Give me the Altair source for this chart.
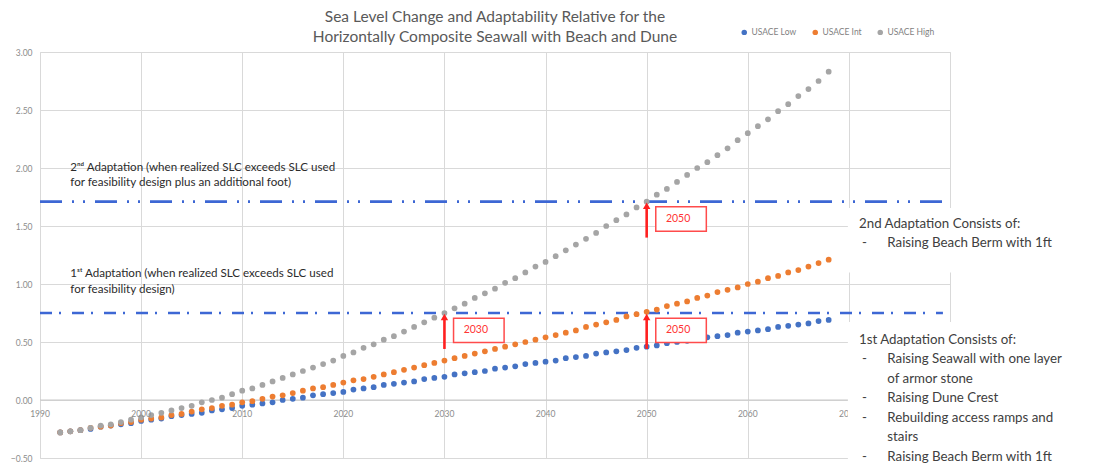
import altair as alt
import pandas as pd

# ---- data ------------------------------------------------------------------
years = list(range(1992, 2069))

usace_low = [
    -0.28, -0.27, -0.26, -0.25, -0.23, -0.22, -0.21, -0.20, -0.18, -0.17,
    -0.16, -0.14, -0.13, -0.12, -0.11, -0.09, -0.08, -0.07, -0.05, -0.04,
    -0.03, -0.02, 0.00, 0.01, 0.02, 0.04, 0.05, 0.06, 0.07, 0.09,
    0.10, 0.11, 0.13, 0.14, 0.15, 0.16, 0.18, 0.19, 0.20, 0.22,
    0.23, 0.24, 0.25, 0.27, 0.28, 0.29, 0.31, 0.32, 0.33, 0.34,
    0.36, 0.37, 0.38, 0.40, 0.41, 0.42, 0.43, 0.45, 0.46, 0.47,
    0.49, 0.50, 0.51, 0.52, 0.54, 0.55, 0.56, 0.58, 0.59, 0.60,
    0.61, 0.63, 0.64, 0.65, 0.66, 0.68, 0.69,
]
usace_int = [
    -0.28, -0.27, -0.26, -0.24, -0.23, -0.22, -0.20, -0.19, -0.17, -0.16,
    -0.15, -0.13, -0.12, -0.10, -0.08, -0.07, -0.05, -0.04, -0.02, -0.01,
    0.01, 0.03, 0.04, 0.06, 0.08, 0.10, 0.11, 0.13, 0.15, 0.17,
    0.18, 0.20, 0.22, 0.24, 0.26, 0.28, 0.30, 0.32, 0.34, 0.36,
    0.38, 0.40, 0.42, 0.44, 0.46, 0.48, 0.50, 0.52, 0.54, 0.56,
    0.58, 0.60, 0.63, 0.65, 0.67, 0.69, 0.72, 0.74, 0.76, 0.78,
    0.81, 0.83, 0.85, 0.88, 0.90, 0.93, 0.95, 0.97, 1.00, 1.02,
    1.05, 1.07, 1.10, 1.12, 1.15, 1.18, 1.21,
]
usace_high = [
    -0.28, -0.27, -0.26, -0.24, -0.22, -0.21, -0.19, -0.17, -0.15, -0.13,
    -0.11, -0.09, -0.07, -0.05, -0.02, 0.00, 0.02, 0.05, 0.08, 0.10,
    0.13, 0.16, 0.19, 0.22, 0.25, 0.28, 0.31, 0.34, 0.38, 0.41,
    0.45, 0.48, 0.52, 0.55, 0.59, 0.63, 0.67, 0.71, 0.75, 0.79,
    0.83, 0.88, 0.92, 0.96, 1.01, 1.05, 1.10, 1.15, 1.19, 1.24,
    1.29, 1.34, 1.39, 1.44, 1.50, 1.55, 1.60, 1.66, 1.71, 1.77,
    1.82, 1.88, 1.94, 2.00, 2.05, 2.11, 2.17, 2.24, 2.30, 2.36,
    2.42, 2.49, 2.55, 2.62, 2.68, 2.75, 2.83,
]

series_names = ["USACE Low", "USACE Int", "USACE High"]
series_colors = ["#4472C4", "#ED7D31", "#A5A5A5"]

x_grid = [1990, 2000, 2010, 2020, 2030, 2040, 2050, 2060, 2070, 2080]
x_label_years = [1990, 2000, 2010, 2020, 2030, 2040, 2050, 2060, 2070]
y_ticks = [-0.5, 0.0, 0.5, 1.0, 1.5, 2.0, 2.5, 3.0]

# adaptation trigger levels (first, second)
adapt_first = 0.75
adapt_second = 1.71

# years at which each scenario crosses a trigger
arrow_years = [2030, 2050, 2050]
arrow_from = [0.44, 0.44, 1.40]
arrow_to = [0.75, 0.75, 1.71]
arrow_labels = ["2030", "2050", "2050"]

second_note = ["2ⁿᵈ Adaptation (when realized SLC exceeds SLC used",
               "for feasibility design plus an additional foot)"]
first_note = ["1ˢᵗ Adaptation (when realized SLC exceeds SLC used",
              "for feasibility design)"]

second_head = "2nd Adaptation Consists of:"
second_items = [("-", "Raising Beach Berm with 1ft")]
first_head = "1st Adaptation Consists of:"
first_items = [("-", "Raising Seawall with one layer"),
               ("", "of armor stone"),
               ("-", "Raising Dune Crest"),
               ("-", "Rebuilding access ramps and"),
               ("", "stairs"),
               ("-", "Raising Beach Berm with 1ft")]

FONT = "Lato"
TEXT_DARK = "#404040"
NOTE_DARK = "#2B2B2B"
AXIS_GREY = "#8C8C8C"
GRID = "#D9D9D9"
RED = "#FF2020"
ADAPT_BLUE = "#3D67D4"

# ---- tables ----------------------------------------------------------------
rows = []
for name, vals in zip(series_names, [usace_low, usace_int, usace_high]):
    for yr, v in zip(years, vals):
        rows.append({"year": yr, "value": v, "series": name})
slc = pd.DataFrame(rows)

arrows = pd.DataFrame({
    "year": arrow_years,
    "y0": arrow_from,
    "y1": arrow_to,
    "label": arrow_labels,
})
arrows["head"] = arrows["y1"] - 0.035
arrows["bx0"] = arrows["year"] + 0.9
arrows["bx1"] = arrows["year"] + 5.9
arrows["by0"] = arrows["y1"] - 0.045
arrows["by1"] = arrows["y1"] - 0.255
arrows["tx"] = arrows["year"] + 1.9
arrows["ty"] = arrows["y1"] - 0.15

# text lines of the two adaptation lists (head row, then indented items)
HEAD_X, DASH_X, BODY_X = 2071.0, 2071.3, 2073.8
LINE_STEP = 0.168


def list_block(head, items, y_top):
    out = [{"x": HEAD_X, "y": y_top, "text": head}]
    for i, (dash, body) in enumerate(items, start=1):
        y = y_top - i * LINE_STEP
        if dash:
            out.append({"x": DASH_X, "y": y, "text": dash})
        out.append({"x": BODY_X, "y": y, "text": body})
    return out


list_lines = pd.DataFrame(list_block(second_head, second_items, 1.483)
                          + list_block(first_head, first_items, 0.483))

xs = alt.Scale(domain=[1990, 2080], nice=False, zero=False)
ys = alt.Scale(domain=[-0.5, 3.0], nice=False, zero=False)

# ---- layers ----------------------------------------------------------------
points = alt.Chart(slc).mark_circle(size=33, opacity=1).encode(
    x=alt.X("year:Q", scale=xs, axis=alt.Axis(
        values=x_grid, grid=True, gridColor=GRID, labels=False,
        ticks=False, domain=False, title=None)),
    y=alt.Y("value:Q", scale=ys, axis=alt.Axis(
        values=y_ticks, format=".2f", grid=True, gridColor=GRID,
        ticks=False, domain=False, title=None, labelFont=FONT,
        labelFontSize=8.5, labelColor=AXIS_GREY, labelPadding=8)),
    color=alt.Color("series:N",
                    scale=alt.Scale(domain=series_names, range=series_colors),
                    legend=alt.Legend(
                        title=None, orient="none", legendX=700, legendY=-24,
                        direction="horizontal", symbolType="circle",
                        symbolSize=30, labelFont=FONT, labelFontSize=8.5,
                        labelColor="#7F7F7F", columnPadding=14, labelOffset=3)),
)

zero_line = alt.Chart(pd.DataFrame({"y": [0.0]})).mark_rule(
    color="#C8C8C8", strokeWidth=1).encode(
    y="y:Q", x=alt.datum(1990), x2=alt.datum(2080))

x_labels = alt.Chart(pd.DataFrame({"year": x_label_years})).mark_text(
    dy=14, font=FONT, fontSize=8.5, color=AXIS_GREY).encode(
    x="year:Q", y=alt.datum(0.0), text=alt.Text("year:Q", format="d"))

# dash-dot for the first trigger, dash-dot-dot for the second
line_first = alt.Chart(pd.DataFrame({"y": [adapt_first]})).mark_rule(
    color=ADAPT_BLUE, strokeWidth=2.6, strokeDash=[12, 7, 2, 11]).encode(
    y="y:Q", x=alt.datum(1990), x2=alt.datum(2079.3))

line_second = alt.Chart(pd.DataFrame({"y": [adapt_second]})).mark_rule(
    color=ADAPT_BLUE, strokeWidth=2.6, strokeDash=[22, 10, 2, 9, 2, 10]).encode(
    y="y:Q", x=alt.datum(1990), x2=alt.datum(2079.3))

arrow_shaft = alt.Chart(arrows).mark_rule(color=RED, strokeWidth=2.6).encode(
    x="year:Q", y="y0:Q", y2="head:Q")
arrow_head = alt.Chart(arrows).mark_point(
    shape="triangle-up", filled=True, size=55, color=RED, opacity=1).encode(
    x="year:Q", y="head:Q")

label_box = alt.Chart(arrows).mark_rect(
    fill="white", stroke="#FF4B4B", strokeWidth=1.5).encode(
    x="bx0:Q", x2="bx1:Q", y="by0:Q", y2="by1:Q")
label_text = alt.Chart(arrows).mark_text(
    align="left", baseline="middle", font=FONT, fontSize=10.5,
    color="#FF3535").encode(x="tx:Q", y="ty:Q", text="label:N")

one = pd.DataFrame({"a": [0]})

note_second_text = alt.Chart(one).mark_text(
    align="left", baseline="alphabetic", font=FONT, fontSize=11.6,
    color=NOTE_DARK, lineHeight=15, text=second_note).encode(
    x=alt.datum(1993.0), y=alt.datum(1.975))

note_first_text = alt.Chart(one).mark_text(
    align="left", baseline="alphabetic", font=FONT, fontSize=11.6,
    color=NOTE_DARK, lineHeight=16, text=first_note).encode(
    x=alt.datum(1993.0), y=alt.datum(1.06))

# white panels holding the adaptation lists
panel_second = alt.Chart(one).mark_rect(fill="white").encode(
    x=alt.datum(2069.9), x2=alt.datum(2096), y=alt.datum(1.655), y2=alt.datum(1.10))
panel_first = alt.Chart(one).mark_rect(fill="white").encode(
    x=alt.datum(2069.9), x2=alt.datum(2096), y=alt.datum(0.672), y2=alt.datum(-0.62))

list_text = alt.Chart(list_lines).mark_text(
    align="left", baseline="alphabetic", font=FONT, fontSize=13.3,
    color=TEXT_DARK).encode(x="x:Q", y="y:Q", text="text:N")

chart = alt.layer(
    zero_line, line_first, line_second, points, x_labels,
    arrow_shaft, arrow_head, label_box, label_text,
    note_second_text, note_first_text,
    panel_second, panel_first, list_text,
).properties(
    width=910,
    height=406,
    padding={"left": 40, "top": 52, "right": 149, "bottom": 11},
    autosize=alt.AutoSizeParams(type="none"),
    title=alt.TitleParams(
        ["Sea Level Change and Adaptability Relative for the",
         "Horizontally Composite Seawall with Beach and Dune"],
        font=FONT, fontSize=15.5, fontWeight="normal", color="#595959",
        anchor="middle", offset=8, lineHeight=20, dy=25),
).configure_view(stroke=None).configure(background="white")

chart.save("out.html", embed_options={"renderer": "svg", "actions": False})
